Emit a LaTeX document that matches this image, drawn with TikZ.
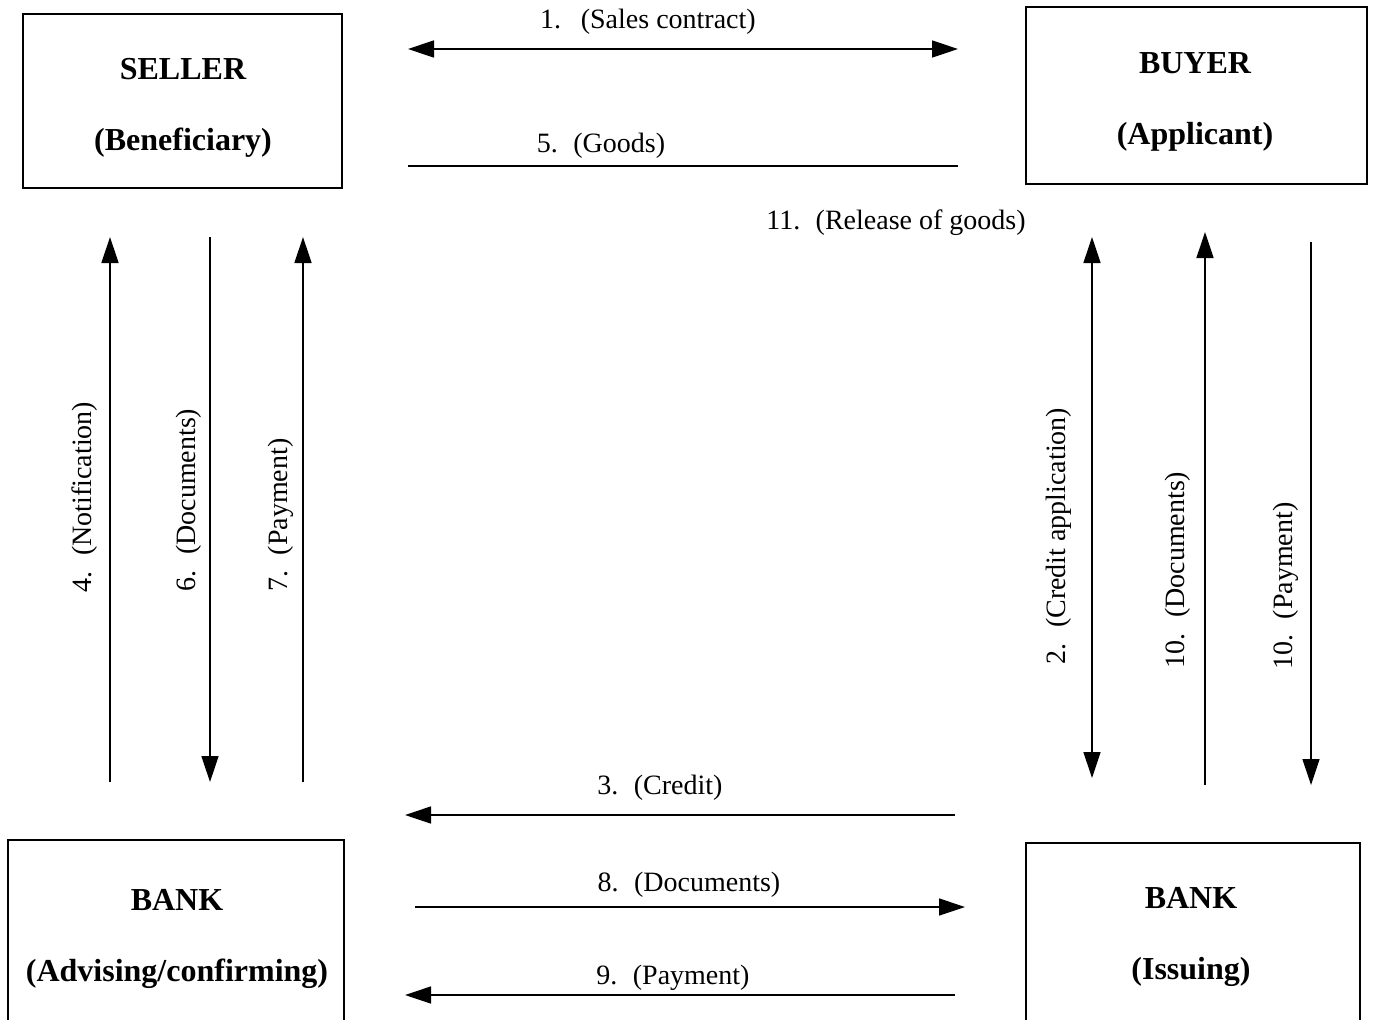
\documentclass[tikz,border=0pt]{standalone}
\usepackage{fontspec}
\setmainfont{Liberation Serif}
\usetikzlibrary{arrows.meta}
\newcommand{\numgap}{\hspace{0.55em}}
\begin{document}
\begin{tikzpicture}[x=1pt,y=-1pt,
  partybox/.style={draw,line width=1.3pt,inner sep=0pt},
  boxtxt/.style={font=\fontsize{32}{34}\selectfont\bfseries,inner sep=0pt,anchor=center},
  lbl/.style={font=\fontsize{28}{30}\selectfont,inner sep=0pt,anchor=center},
  conn/.style={line width=1.4pt},
  tip/.style={-{Triangle[length=26pt,width=17pt]}},
  tips/.style={{Triangle[length=26pt,width=17pt]}-{Triangle[length=26pt,width=17pt]}}]
\clip (0,0) rectangle (1374,1020);
% boxes
\node[partybox,minimum width=319pt,minimum height=174pt] (seller) at (182.5,101) {};
\node[partybox,minimum width=341pt,minimum height=177pt] (buyer) at (1196.5,95.5) {};
\node[partybox,minimum width=336pt,minimum height=240pt] (bankA) at (176,960) {};
\node[partybox,minimum width=334pt,minimum height=240pt] (bankI) at (1193,963) {};
% box texts
\node[boxtxt] (t1) at (183,69) {SELLER};
\node[boxtxt] (t2) at (183,143) {(Beneficiary)};
\node[boxtxt] (t3) at (1195,63) {BUYER};
\node[boxtxt] (t4) at (1195,137) {(Applicant)};
\node[boxtxt] (t5) at (177,900) {BANK};
\node[boxtxt] (t6) at (177,974) {(Advising/confirming)};
\node[boxtxt] (t7) at (1191,898) {BANK};
\node[boxtxt] (t8) at (1191,972) {(Issuing)};
% endpoints
\coordinate (a1) at (408,49); \coordinate (b1) at (958,49);
\coordinate (a5) at (408,166); \coordinate (b5) at (958,166);
\coordinate (a4) at (110,782); \coordinate (b4) at (110,237);
\coordinate (a6) at (210,237); \coordinate (b6) at (210,782);
\coordinate (a7) at (303,782); \coordinate (b7) at (303,237);
\coordinate (a2) at (1092,237); \coordinate (b2) at (1092,778);
\coordinate (a10) at (1205,785); \coordinate (b10) at (1205,232);
\coordinate (a10p) at (1311,242); \coordinate (b10p) at (1311,785);
\coordinate (a3) at (955,815); \coordinate (b3) at (405,815);
\coordinate (a8) at (415,907); \coordinate (b8) at (965,907);
\coordinate (a9) at (955,995); \coordinate (b9) at (405,995);
% connectors
\draw[conn,tips] (a1) -- (b1);
\draw[conn] (a5) -- (b5);
\draw[conn,tip] (a4) -- (b4);
\draw[conn,tip] (a6) -- (b6);
\draw[conn,tip] (a7) -- (b7);
\draw[conn,tips] (a2) -- (b2);
\draw[conn,tip] (a10) -- (b10);
\draw[conn,tip] (a10p) -- (b10p);
\draw[conn,tip] (a3) -- (b3);
\draw[conn,tip] (a8) -- (b8);
\draw[conn,tip] (a9) -- (b9);
% labels
\node[lbl] (l1) at (648,22) {1.\hspace{0.7em}(Sales contract)};
\node[lbl] (l5) at (601,146) {5.\numgap(Goods)};
\node[lbl] (l11) at (896,223) {11.\numgap(Release of goods)};
\node[lbl,rotate=90] (l4) at (85,497) {4.\numgap(Notification)};
\node[lbl,rotate=90] (l6) at (189,500) {6.\numgap(Documents)};
\node[lbl,rotate=90] (l7) at (281,515) {7.\numgap(Payment)};
\node[lbl,rotate=90] (l2) at (1059,536) {2.\numgap(Credit application)};
\node[lbl,rotate=90] (l10) at (1178,570) {10.\numgap(Documents)};
\node[lbl,rotate=90] (l10p) at (1286,586) {10.\numgap(Payment)};
\node[lbl] (l3) at (660,788) {3.\numgap(Credit)};
\node[lbl] (l8) at (689,885) {8.\numgap(Documents)};
\node[lbl] (l9) at (673,978) {9.\numgap(Payment)};
\end{tikzpicture}
\end{document}
